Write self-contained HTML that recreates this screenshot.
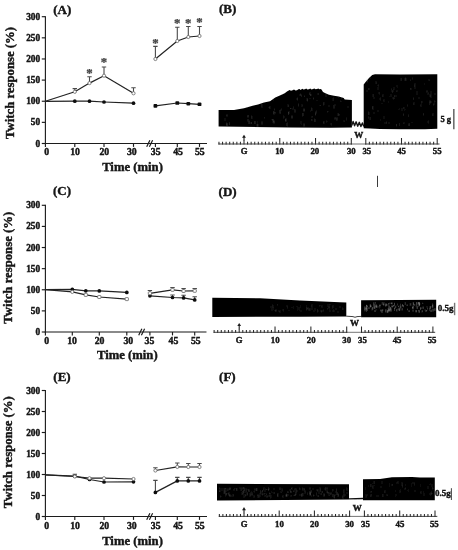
<!DOCTYPE html>
<html lang="en"><head><meta charset="utf-8"><title>Twitch response figure</title>
<style>html,body{margin:0;padding:0;background:#fff}svg{display:block}text{fill:#141414;stroke:#141414;stroke-width:0.4px}</style></head><body>
<svg width="458" height="550" viewBox="0 0 458 550">
<defs><filter id="soft" x="0" y="0" width="458" height="550" filterUnits="userSpaceOnUse"><feGaussianBlur stdDeviation="0.38"/></filter></defs>
<rect width="458" height="550" fill="#fff"/>
<g filter="url(#soft)">
<g>
<text x="62.3" y="13.8" font-family="Liberation Serif, serif" font-weight="bold" font-size="13" text-anchor="middle" >(A)</text>
<path d="M45.4 16.2V144.1" stroke="#1c1c1c" stroke-width="1.15" fill="none"/>
<path d="M41.8 143.50H45.4" stroke="#1c1c1c" stroke-width="1.15"/>
<text x="40.199999999999996" y="146.5" font-family="Liberation Serif, serif" font-weight="bold" font-size="9.4" text-anchor="end" >0</text>
<path d="M41.8 122.37H45.4" stroke="#1c1c1c" stroke-width="1.15"/>
<text x="40.199999999999996" y="125.37" font-family="Liberation Serif, serif" font-weight="bold" font-size="9.4" text-anchor="end" >50</text>
<path d="M41.8 101.23H45.4" stroke="#1c1c1c" stroke-width="1.15"/>
<text x="40.199999999999996" y="104.23" font-family="Liberation Serif, serif" font-weight="bold" font-size="9.4" text-anchor="end" >100</text>
<path d="M41.8 80.10H45.4" stroke="#1c1c1c" stroke-width="1.15"/>
<text x="40.199999999999996" y="83.1" font-family="Liberation Serif, serif" font-weight="bold" font-size="9.4" text-anchor="end" >150</text>
<path d="M41.8 58.97H45.4" stroke="#1c1c1c" stroke-width="1.15"/>
<text x="40.199999999999996" y="61.97" font-family="Liberation Serif, serif" font-weight="bold" font-size="9.4" text-anchor="end" >200</text>
<path d="M41.8 37.83H45.4" stroke="#1c1c1c" stroke-width="1.15"/>
<text x="40.199999999999996" y="40.83" font-family="Liberation Serif, serif" font-weight="bold" font-size="9.4" text-anchor="end" >250</text>
<path d="M41.8 16.70H45.4" stroke="#1c1c1c" stroke-width="1.15"/>
<text x="40.199999999999996" y="19.7" font-family="Liberation Serif, serif" font-weight="bold" font-size="9.4" text-anchor="end" >300</text>
<path d="M44.8 143.5H207" stroke="#1c1c1c" stroke-width="1.15" fill="none"/>
<path d="M146.70 146.70L149.90 140.20M149.40 146.70L152.60 140.20" stroke="#1c1c1c" stroke-width="1.2" fill="none"/>
<path d="M45.4 143.5V146.9" stroke="#1c1c1c" stroke-width="1.15"/>
<text x="46.8" y="154.8" font-family="Liberation Serif, serif" font-weight="bold" font-size="9.8" text-anchor="middle" >0</text>
<path d="M74.8 143.5V146.9" stroke="#1c1c1c" stroke-width="1.15"/>
<text x="75.1" y="154.8" font-family="Liberation Serif, serif" font-weight="bold" font-size="9.8" text-anchor="middle" >10</text>
<path d="M104 143.5V146.9" stroke="#1c1c1c" stroke-width="1.15"/>
<text x="104.3" y="154.8" font-family="Liberation Serif, serif" font-weight="bold" font-size="9.8" text-anchor="middle" >20</text>
<path d="M133.5 143.5V146.9" stroke="#1c1c1c" stroke-width="1.15"/>
<text x="131.8" y="154.8" font-family="Liberation Serif, serif" font-weight="bold" font-size="9.8" text-anchor="middle" >30</text>
<path d="M155.4 143.5V146.9" stroke="#1c1c1c" stroke-width="1.15"/>
<text x="155.7" y="154.8" font-family="Liberation Serif, serif" font-weight="bold" font-size="9.8" text-anchor="middle" >35</text>
<path d="M177.3 143.5V146.9" stroke="#1c1c1c" stroke-width="1.15"/>
<text x="178.1" y="154.8" font-family="Liberation Serif, serif" font-weight="bold" font-size="9.8" text-anchor="middle" >45</text>
<path d="M199.5 143.5V146.9" stroke="#1c1c1c" stroke-width="1.15"/>
<text x="199.8" y="154.8" font-family="Liberation Serif, serif" font-weight="bold" font-size="9.8" text-anchor="middle" >55</text>
<text x="132.5" y="171.3" font-family="Liberation Serif, serif" font-weight="bold" font-size="12.7" text-anchor="middle" >Time (min)</text>
<text transform="translate(13.8 139) rotate(-90)" font-family="Liberation Serif, serif" font-weight="bold" font-size="13" textLength="112" lengthAdjust="spacingAndGlyphs">Twitch response (%)</text>
<path d="M45.4 101.3 L74.8 101.2 L89.5 101.2 L104 102 L133.5 103.2" stroke="#222" stroke-width="1.2" fill="none" stroke-linejoin="round"/>
<path d="M155.4 105.9 L177.3 103 L188.3 103.7 L199.5 104.3" stroke="#222" stroke-width="1.2" fill="none" stroke-linejoin="round"/>
<circle cx="74.8" cy="101.2" r="1.85" fill="#111"/>
<circle cx="89.5" cy="101.2" r="1.85" fill="#111"/>
<circle cx="104" cy="102" r="1.85" fill="#111"/>
<circle cx="133.5" cy="103.2" r="1.85" fill="#111"/>
<rect x="153.50" y="104.10" width="3.8" height="3.6" rx="0.9" fill="#111"/>
<rect x="175.40" y="101.20" width="3.8" height="3.6" rx="0.9" fill="#111"/>
<rect x="186.40" y="101.90" width="3.8" height="3.6" rx="0.9" fill="#111"/>
<rect x="197.60" y="102.50" width="3.8" height="3.6" rx="0.9" fill="#111"/>
<path d="M74.8 91.8V88.6M72.6 88.6H77.0" stroke="#4a4a4a" stroke-width="1.1" fill="none"/>
<path d="M89.5 83.1V76.7M87.3 76.7H91.7" stroke="#4a4a4a" stroke-width="1.1" fill="none"/>
<path d="M104 75.7V67M101.8 67H106.2" stroke="#4a4a4a" stroke-width="1.1" fill="none"/>
<path d="M133.5 93.3V87.8M131.3 87.8H135.7" stroke="#4a4a4a" stroke-width="1.1" fill="none"/>
<path d="M155.4 59V46.4M153.20000000000002 46.4H157.6" stroke="#4a4a4a" stroke-width="1.1" fill="none"/>
<path d="M177.3 41V27.3M175.10000000000002 27.3H179.5" stroke="#4a4a4a" stroke-width="1.1" fill="none"/>
<path d="M188.3 37V26.5M186.10000000000002 26.5H190.5" stroke="#4a4a4a" stroke-width="1.1" fill="none"/>
<path d="M199.5 36V26.5M197.3 26.5H201.7" stroke="#4a4a4a" stroke-width="1.1" fill="none"/>
<path d="M45.4 101.3 L74.8 91.8 L89.5 83.1 L104 75.7 L133.5 93.3" stroke="#222" stroke-width="1.2" fill="none" stroke-linejoin="round"/>
<path d="M155.4 59 L177.3 41 L188.3 37 L199.5 36" stroke="#222" stroke-width="1.2" fill="none" stroke-linejoin="round"/>
<circle cx="74.8" cy="91.8" r="1.6" fill="#fff" stroke="#666" stroke-width="0.8"/>
<circle cx="89.5" cy="83.1" r="1.6" fill="#fff" stroke="#666" stroke-width="0.8"/>
<circle cx="104" cy="75.7" r="1.6" fill="#fff" stroke="#666" stroke-width="0.8"/>
<circle cx="133.5" cy="93.3" r="1.6" fill="#fff" stroke="#666" stroke-width="0.8"/>
<circle cx="155.4" cy="59" r="1.6" fill="#fff" stroke="#666" stroke-width="0.8"/>
<circle cx="177.3" cy="41" r="1.6" fill="#fff" stroke="#666" stroke-width="0.8"/>
<circle cx="188.3" cy="37" r="1.6" fill="#fff" stroke="#666" stroke-width="0.8"/>
<circle cx="199.5" cy="36" r="1.6" fill="#fff" stroke="#666" stroke-width="0.8"/>
<text x="89.5" y="76.8" font-family="Liberation Serif, serif" font-weight="bold" font-size="12.8" text-anchor="middle" style="fill:#444;stroke:#444;stroke-width:0.25">*</text>
<text x="104" y="66.3" font-family="Liberation Serif, serif" font-weight="bold" font-size="12.8" text-anchor="middle" style="fill:#444;stroke:#444;stroke-width:0.25">*</text>
<text x="155.4" y="46.8" font-family="Liberation Serif, serif" font-weight="bold" font-size="12.8" text-anchor="middle" style="fill:#444;stroke:#444;stroke-width:0.25">*</text>
<text x="177.3" y="26.8" font-family="Liberation Serif, serif" font-weight="bold" font-size="12.8" text-anchor="middle" style="fill:#444;stroke:#444;stroke-width:0.25">*</text>
<text x="188.3" y="26.8" font-family="Liberation Serif, serif" font-weight="bold" font-size="12.8" text-anchor="middle" style="fill:#444;stroke:#444;stroke-width:0.25">*</text>
<text x="199.5" y="26.0" font-family="Liberation Serif, serif" font-weight="bold" font-size="12.8" text-anchor="middle" style="fill:#444;stroke:#444;stroke-width:0.25">*</text>
</g>
<g>
<text x="62" y="195.4" font-family="Liberation Serif, serif" font-weight="bold" font-size="13" text-anchor="middle" >(C)</text>
<path d="M45.4 204.8V332.6" stroke="#1c1c1c" stroke-width="1.15" fill="none"/>
<path d="M41.8 332.00H45.4" stroke="#1c1c1c" stroke-width="1.15"/>
<text x="40.199999999999996" y="335.0" font-family="Liberation Serif, serif" font-weight="bold" font-size="9.4" text-anchor="end" >0</text>
<path d="M41.8 310.88H45.4" stroke="#1c1c1c" stroke-width="1.15"/>
<text x="40.199999999999996" y="313.88" font-family="Liberation Serif, serif" font-weight="bold" font-size="9.4" text-anchor="end" >50</text>
<path d="M41.8 289.77H45.4" stroke="#1c1c1c" stroke-width="1.15"/>
<text x="40.199999999999996" y="292.77" font-family="Liberation Serif, serif" font-weight="bold" font-size="9.4" text-anchor="end" >100</text>
<path d="M41.8 268.65H45.4" stroke="#1c1c1c" stroke-width="1.15"/>
<text x="40.199999999999996" y="271.65" font-family="Liberation Serif, serif" font-weight="bold" font-size="9.4" text-anchor="end" >150</text>
<path d="M41.8 247.53H45.4" stroke="#1c1c1c" stroke-width="1.15"/>
<text x="40.199999999999996" y="250.53" font-family="Liberation Serif, serif" font-weight="bold" font-size="9.4" text-anchor="end" >200</text>
<path d="M41.8 226.42H45.4" stroke="#1c1c1c" stroke-width="1.15"/>
<text x="40.199999999999996" y="229.42" font-family="Liberation Serif, serif" font-weight="bold" font-size="9.4" text-anchor="end" >250</text>
<path d="M41.8 205.30H45.4" stroke="#1c1c1c" stroke-width="1.15"/>
<text x="40.199999999999996" y="208.3" font-family="Liberation Serif, serif" font-weight="bold" font-size="9.4" text-anchor="end" >300</text>
<path d="M44.8 332.0H206.5" stroke="#1c1c1c" stroke-width="1.15" fill="none"/>
<path d="M138.70 335.20L141.90 328.70M141.40 335.20L144.60 328.70" stroke="#1c1c1c" stroke-width="1.2" fill="none"/>
<path d="M45.4 332.0V335.4" stroke="#1c1c1c" stroke-width="1.15"/>
<text x="46.7" y="344.3" font-family="Liberation Serif, serif" font-weight="bold" font-size="9.8" text-anchor="middle" >0</text>
<path d="M72.3 332.0V335.4" stroke="#1c1c1c" stroke-width="1.15"/>
<text x="72.1" y="344.3" font-family="Liberation Serif, serif" font-weight="bold" font-size="9.8" text-anchor="middle" >10</text>
<path d="M99.3 332.0V335.4" stroke="#1c1c1c" stroke-width="1.15"/>
<text x="99.6" y="344.3" font-family="Liberation Serif, serif" font-weight="bold" font-size="9.8" text-anchor="middle" >20</text>
<path d="M126.8 332.0V335.4" stroke="#1c1c1c" stroke-width="1.15"/>
<text x="128.3" y="344.3" font-family="Liberation Serif, serif" font-weight="bold" font-size="9.8" text-anchor="middle" >30</text>
<path d="M149.9 332.0V335.4" stroke="#1c1c1c" stroke-width="1.15"/>
<text x="149.4" y="344.3" font-family="Liberation Serif, serif" font-weight="bold" font-size="9.8" text-anchor="middle" >35</text>
<path d="M172.5 332.0V335.4" stroke="#1c1c1c" stroke-width="1.15"/>
<text x="173.4" y="344.3" font-family="Liberation Serif, serif" font-weight="bold" font-size="9.8" text-anchor="middle" >45</text>
<path d="M194.7 332.0V335.4" stroke="#1c1c1c" stroke-width="1.15"/>
<text x="195.8" y="344.3" font-family="Liberation Serif, serif" font-weight="bold" font-size="9.8" text-anchor="middle" >55</text>
<text x="127.3" y="358.6" font-family="Liberation Serif, serif" font-weight="bold" font-size="12.7" text-anchor="middle" >Time (min)</text>
<text transform="translate(12.3 323.8) rotate(-90)" font-family="Liberation Serif, serif" font-weight="bold" font-size="13" textLength="112" lengthAdjust="spacingAndGlyphs">Twitch response (%)</text>
<path d="M172.5 297.5V295M170.3 295H174.7" stroke="#4a4a4a" stroke-width="1.1" fill="none"/>
<path d="M183.6 297.9V295.3M181.4 295.3H185.79999999999998" stroke="#4a4a4a" stroke-width="1.1" fill="none"/>
<path d="M194.7 299.9V296.8M192.5 296.8H196.89999999999998" stroke="#4a4a4a" stroke-width="1.1" fill="none"/>
<path d="M45.4 289.6 L72.3 289.3 L85.8 290.8 L99.3 290.9 L126.8 292.4" stroke="#222" stroke-width="1.2" fill="none" stroke-linejoin="round"/>
<path d="M149.9 295.8 L172.5 297.5 L183.6 297.9 L194.7 299.9" stroke="#222" stroke-width="1.2" fill="none" stroke-linejoin="round"/>
<circle cx="72.3" cy="289.3" r="1.85" fill="#111"/>
<circle cx="85.8" cy="290.8" r="1.85" fill="#111"/>
<circle cx="99.3" cy="290.9" r="1.85" fill="#111"/>
<circle cx="126.8" cy="292.4" r="1.85" fill="#111"/>
<circle cx="149.9" cy="295.8" r="1.85" fill="#111"/>
<circle cx="172.5" cy="297.5" r="1.85" fill="#111"/>
<circle cx="183.6" cy="297.9" r="1.85" fill="#111"/>
<circle cx="194.7" cy="299.9" r="1.85" fill="#111"/>
<path d="M149.9 293.3V290.5M147.70000000000002 290.5H152.1" stroke="#4a4a4a" stroke-width="1.1" fill="none"/>
<path d="M172.5 289.8V287.5M170.3 287.5H174.7" stroke="#4a4a4a" stroke-width="1.1" fill="none"/>
<path d="M183.6 291V288.5M181.4 288.5H185.79999999999998" stroke="#4a4a4a" stroke-width="1.1" fill="none"/>
<path d="M194.7 290.8V288.5M192.5 288.5H196.89999999999998" stroke="#4a4a4a" stroke-width="1.1" fill="none"/>
<path d="M45.4 289.6 L72.3 291.9 L85.8 294.9 L99.3 297 L126.8 299.1" stroke="#222" stroke-width="1.2" fill="none" stroke-linejoin="round"/>
<path d="M149.9 293.3 L172.5 289.8 L183.6 291 L194.7 290.8" stroke="#222" stroke-width="1.2" fill="none" stroke-linejoin="round"/>
<circle cx="72.3" cy="291.9" r="1.6" fill="#fff" stroke="#666" stroke-width="0.8"/>
<rect x="84.20" y="293.40" width="3.2" height="3" rx="0.5" fill="#fff" stroke="#666" stroke-width="0.8"/>
<rect x="97.70" y="295.50" width="3.2" height="3" rx="0.5" fill="#fff" stroke="#666" stroke-width="0.8"/>
<rect x="125.20" y="297.60" width="3.2" height="3" rx="0.5" fill="#fff" stroke="#666" stroke-width="0.8"/>
<rect x="148.30" y="291.80" width="3.2" height="3" rx="0.5" fill="#fff" stroke="#666" stroke-width="0.8"/>
<rect x="170.90" y="288.30" width="3.2" height="3" rx="0.5" fill="#fff" stroke="#666" stroke-width="0.8"/>
<rect x="182.00" y="289.50" width="3.2" height="3" rx="0.5" fill="#fff" stroke="#666" stroke-width="0.8"/>
<rect x="193.10" y="289.30" width="3.2" height="3" rx="0.5" fill="#fff" stroke="#666" stroke-width="0.8"/>
</g>
<g>
<text x="62" y="381.3" font-family="Liberation Serif, serif" font-weight="bold" font-size="13" text-anchor="middle" >(E)</text>
<path d="M45.4 390.0V517.1" stroke="#1c1c1c" stroke-width="1.15" fill="none"/>
<path d="M41.8 516.50H45.4" stroke="#1c1c1c" stroke-width="1.15"/>
<text x="40.199999999999996" y="519.5" font-family="Liberation Serif, serif" font-weight="bold" font-size="9.4" text-anchor="end" >0</text>
<path d="M41.8 495.50H45.4" stroke="#1c1c1c" stroke-width="1.15"/>
<text x="40.199999999999996" y="498.5" font-family="Liberation Serif, serif" font-weight="bold" font-size="9.4" text-anchor="end" >50</text>
<path d="M41.8 474.50H45.4" stroke="#1c1c1c" stroke-width="1.15"/>
<text x="40.199999999999996" y="477.5" font-family="Liberation Serif, serif" font-weight="bold" font-size="9.4" text-anchor="end" >100</text>
<path d="M41.8 453.50H45.4" stroke="#1c1c1c" stroke-width="1.15"/>
<text x="40.199999999999996" y="456.5" font-family="Liberation Serif, serif" font-weight="bold" font-size="9.4" text-anchor="end" >150</text>
<path d="M41.8 432.50H45.4" stroke="#1c1c1c" stroke-width="1.15"/>
<text x="40.199999999999996" y="435.5" font-family="Liberation Serif, serif" font-weight="bold" font-size="9.4" text-anchor="end" >200</text>
<path d="M41.8 411.50H45.4" stroke="#1c1c1c" stroke-width="1.15"/>
<text x="40.199999999999996" y="414.5" font-family="Liberation Serif, serif" font-weight="bold" font-size="9.4" text-anchor="end" >250</text>
<path d="M41.8 390.50H45.4" stroke="#1c1c1c" stroke-width="1.15"/>
<text x="40.199999999999996" y="393.5" font-family="Liberation Serif, serif" font-weight="bold" font-size="9.4" text-anchor="end" >300</text>
<path d="M44.8 516.5H207" stroke="#1c1c1c" stroke-width="1.15" fill="none"/>
<path d="M146.70 519.70L149.90 513.20M149.40 519.70L152.60 513.20" stroke="#1c1c1c" stroke-width="1.2" fill="none"/>
<path d="M45.4 516.5V519.9" stroke="#1c1c1c" stroke-width="1.15"/>
<text x="46.8" y="528.9" font-family="Liberation Serif, serif" font-weight="bold" font-size="9.8" text-anchor="middle" >0</text>
<path d="M74.8 516.5V519.9" stroke="#1c1c1c" stroke-width="1.15"/>
<text x="75.1" y="528.9" font-family="Liberation Serif, serif" font-weight="bold" font-size="9.8" text-anchor="middle" >10</text>
<path d="M104 516.5V519.9" stroke="#1c1c1c" stroke-width="1.15"/>
<text x="104.3" y="528.9" font-family="Liberation Serif, serif" font-weight="bold" font-size="9.8" text-anchor="middle" >20</text>
<path d="M133.5 516.5V519.9" stroke="#1c1c1c" stroke-width="1.15"/>
<text x="131.8" y="528.9" font-family="Liberation Serif, serif" font-weight="bold" font-size="9.8" text-anchor="middle" >30</text>
<path d="M155.4 516.5V519.9" stroke="#1c1c1c" stroke-width="1.15"/>
<text x="155.7" y="528.9" font-family="Liberation Serif, serif" font-weight="bold" font-size="9.8" text-anchor="middle" >35</text>
<path d="M177.3 516.5V519.9" stroke="#1c1c1c" stroke-width="1.15"/>
<text x="178.1" y="528.9" font-family="Liberation Serif, serif" font-weight="bold" font-size="9.8" text-anchor="middle" >45</text>
<path d="M199.5 516.5V519.9" stroke="#1c1c1c" stroke-width="1.15"/>
<text x="199.8" y="528.9" font-family="Liberation Serif, serif" font-weight="bold" font-size="9.8" text-anchor="middle" >55</text>
<text x="132.5" y="544.6" font-family="Liberation Serif, serif" font-weight="bold" font-size="12.7" text-anchor="middle" >Time (min)</text>
<text transform="translate(12.3 508.3) rotate(-90)" font-family="Liberation Serif, serif" font-weight="bold" font-size="13" textLength="112" lengthAdjust="spacingAndGlyphs">Twitch response (%)</text>
<path d="M155.4 492.4V480.4M153.20000000000002 480.4H157.6" stroke="#4a4a4a" stroke-width="1.1" fill="none"/>
<path d="M177.3 480.9V477.4M175.10000000000002 477.4H179.5" stroke="#4a4a4a" stroke-width="1.1" fill="none"/>
<path d="M188.3 480.9V477.4M186.10000000000002 477.4H190.5" stroke="#4a4a4a" stroke-width="1.1" fill="none"/>
<path d="M199.5 480.9V477.4M197.3 477.4H201.7" stroke="#4a4a4a" stroke-width="1.1" fill="none"/>
<path d="M45.4 474.8 L74.8 476.2 L89.5 479.5 L104 482 L133.5 481.8" stroke="#222" stroke-width="1.2" fill="none" stroke-linejoin="round"/>
<path d="M155.4 492.4 L177.3 480.9 L188.3 480.9 L199.5 480.9" stroke="#222" stroke-width="1.2" fill="none" stroke-linejoin="round"/>
<circle cx="74.8" cy="476.2" r="1.85" fill="#111"/>
<circle cx="89.5" cy="479.5" r="1.85" fill="#111"/>
<circle cx="104" cy="482" r="1.85" fill="#111"/>
<circle cx="133.5" cy="481.8" r="1.85" fill="#111"/>
<circle cx="155.4" cy="492.4" r="1.85" fill="#111"/>
<circle cx="177.3" cy="480.9" r="1.85" fill="#111"/>
<circle cx="188.3" cy="480.9" r="1.85" fill="#111"/>
<circle cx="199.5" cy="480.9" r="1.85" fill="#111"/>
<path d="M74.8 476.5V474.2M72.6 474.2H77.0" stroke="#4a4a4a" stroke-width="1.1" fill="none"/>
<path d="M155.4 470.5V467.8M153.20000000000002 467.8H157.6" stroke="#4a4a4a" stroke-width="1.1" fill="none"/>
<path d="M177.3 466.9V463M175.10000000000002 463H179.5" stroke="#4a4a4a" stroke-width="1.1" fill="none"/>
<path d="M188.3 467V463.5M186.10000000000002 463.5H190.5" stroke="#4a4a4a" stroke-width="1.1" fill="none"/>
<path d="M199.5 467V463.5M197.3 463.5H201.7" stroke="#4a4a4a" stroke-width="1.1" fill="none"/>
<path d="M45.4 474.8 L74.8 476.5 L89.5 478.2 L104 478.2 L133.5 479" stroke="#222" stroke-width="1.2" fill="none" stroke-linejoin="round"/>
<path d="M155.4 470.5 L177.3 466.9 L188.3 467 L199.5 467" stroke="#222" stroke-width="1.2" fill="none" stroke-linejoin="round"/>
<circle cx="74.8" cy="476.5" r="1.6" fill="#fff" stroke="#666" stroke-width="0.8"/>
<circle cx="89.5" cy="478.2" r="1.6" fill="#fff" stroke="#666" stroke-width="0.8"/>
<circle cx="104" cy="478.2" r="1.6" fill="#fff" stroke="#666" stroke-width="0.8"/>
<circle cx="133.5" cy="479" r="1.6" fill="#fff" stroke="#666" stroke-width="0.8"/>
<circle cx="155.4" cy="470.5" r="1.6" fill="#fff" stroke="#666" stroke-width="0.8"/>
<circle cx="177.3" cy="466.9" r="1.6" fill="#fff" stroke="#666" stroke-width="0.8"/>
<circle cx="188.3" cy="467" r="1.6" fill="#fff" stroke="#666" stroke-width="0.8"/>
<circle cx="199.5" cy="467" r="1.6" fill="#fff" stroke="#666" stroke-width="0.8"/>
</g>
<g>
<text x="227.6" y="13.4" font-family="Liberation Serif, serif" font-weight="bold" font-size="13" text-anchor="middle" >(B)</text>
<path d="M218.6 110 L234 110 L244 108.3 L252.6 105.8 L258 104.4 L264 102.6 L270 101.2 L275.3 97.6 L281 95 L284.7 93.3 L287 91.6 L289.6 90.1 L291 90.7 L292.6 90.3 L294 89.5 L295.5 90.6 L297 90.2 L298.4 89.2 L299.5 88.9 L300.6 89.9 L302.3 88.7 L303.4 89.5 L305 89.3 L306.2 88.6 L307.3 89.6 L309 89.2 L310.2 88.5 L311.6 89.5 L313 88.9 L314.4 88.4 L315.6 89.3 L317 89 L318.3 88.5 L319.4 89.3 L320.6 89 L321.5 89.6 L323 92 L326 93.4 L329 94.7 L334 95.8 L338.8 96.6 L343.7 98 L344.7 99.6 L351.9 100 L351.9 127.4 L330 127.8 L290 127.4 L218.6 126.6 Z" fill="#060606"/>
<path d="M351.8 125.6 L353.1 121.4 L354.6 125.8 L356.1 121.8 L357.7 126.2 L359.3 122.3 L360.9 126.6 L362.4 123 L363.8 126.6" stroke="#151515" stroke-width="1.4" fill="none" stroke-linejoin="round"/>
<path d="M363.7 128.2 L363.7 84.5 L366 81.5 L369 78 L372.2 75 L375 74.3 L400 74.6 L437.3 74.2 L437.3 128.8 L425 129.3 L400 129.3 L380 129 L370 128.6 L363.7 128.2 Z" fill="#060606"/>
<clipPath id="cb"><path d="M218.6 110 L234 110 L244 108.3 L252.6 105.8 L258 104.4 L264 102.6 L270 101.2 L275.3 97.6 L281 95 L284.7 93.3 L287 91.6 L289.6 90.1 L291 90.7 L292.6 90.3 L294 89.5 L295.5 90.6 L297 90.2 L298.4 89.2 L299.5 88.9 L300.6 89.9 L302.3 88.7 L303.4 89.5 L305 89.3 L306.2 88.6 L307.3 89.6 L309 89.2 L310.2 88.5 L311.6 89.5 L313 88.9 L314.4 88.4 L315.6 89.3 L317 89 L318.3 88.5 L319.4 89.3 L320.6 89 L321.5 89.6 L323 92 L326 93.4 L329 94.7 L334 95.8 L338.8 96.6 L343.7 98 L344.7 99.6 L351.9 100 L351.9 127.4 L330 127.8 L290 127.4 L218.6 126.6 Z"/></clipPath>
<g fill="#9a9a9a" clip-path="url(#cb)"><rect x="279.4" y="109.9" width="1.3" height="1.9" opacity="0.2"/><rect x="296.8" y="97.9" width="1.0" height="2.3" opacity="0.25"/><rect x="233.1" y="101.7" width="0.7" height="2.7" opacity="0.23"/><rect x="226.4" y="123.4" width="1.4" height="2.4" opacity="0.22"/><rect x="241.3" y="92.5" width="1.0" height="0.9" opacity="0.14"/><rect x="252.2" y="93.0" width="1.0" height="1.9" opacity="0.26"/><rect x="288.0" y="112.5" width="1.0" height="2.4" opacity="0.19"/><rect x="256.9" y="123.9" width="1.4" height="2.8" opacity="0.23"/><rect x="261.7" y="99.3" width="0.8" height="1.0" opacity="0.24"/><rect x="272.7" y="119.1" width="0.9" height="3.1" opacity="0.26"/><rect x="221.1" y="98.7" width="1.3" height="1.9" opacity="0.28"/><rect x="272.3" y="94.3" width="1.1" height="2.7" opacity="0.16"/><rect x="232.2" y="102.6" width="1.4" height="2.6" opacity="0.13"/><rect x="252.8" y="95.2" width="0.6" height="2.7" opacity="0.14"/><rect x="293.1" y="106.3" width="0.8" height="2.6" opacity="0.13"/><rect x="304.0" y="95.7" width="0.9" height="1.3" opacity="0.16"/><rect x="346.2" y="117.7" width="0.8" height="2.9" opacity="0.15"/><rect x="271.9" y="119.3" width="1.1" height="1.0" opacity="0.28"/><rect x="248.5" y="100.3" width="1.2" height="1.6" opacity="0.16"/><rect x="230.5" y="94.9" width="1.1" height="1.4" opacity="0.22"/><rect x="268.9" y="106.5" width="1.4" height="2.0" opacity="0.21"/><rect x="332.8" y="97.9" width="0.7" height="3.0" opacity="0.25"/><rect x="253.2" y="98.1" width="1.2" height="3.1" opacity="0.14"/><rect x="343.6" y="120.2" width="1.1" height="1.8" opacity="0.13"/><rect x="226.0" y="122.8" width="0.8" height="2.5" opacity="0.16"/><rect x="327.3" y="111.1" width="0.8" height="1.2" opacity="0.24"/><rect x="229.9" y="99.3" width="1.0" height="2.8" opacity="0.22"/><rect x="257.1" y="121.4" width="0.8" height="0.8" opacity="0.16"/><rect x="278.5" y="93.9" width="0.7" height="1.7" opacity="0.21"/><rect x="238.0" y="103.6" width="1.3" height="3.2" opacity="0.23"/><rect x="310.2" y="110.7" width="0.7" height="0.9" opacity="0.11"/><rect x="338.4" y="114.4" width="1.4" height="0.9" opacity="0.22"/><rect x="283.2" y="115.4" width="0.9" height="3.2" opacity="0.12"/><rect x="291.4" y="115.6" width="1.3" height="2.6" opacity="0.23"/><rect x="323.3" y="121.3" width="0.9" height="2.4" opacity="0.27"/><rect x="333.4" y="105.3" width="1.2" height="2.9" opacity="0.21"/><rect x="301.6" y="104.2" width="1.1" height="2.3" opacity="0.12"/><rect x="303.5" y="123.8" width="1.3" height="2.5" opacity="0.18"/><rect x="315.8" y="110.6" width="1.0" height="2.8" opacity="0.12"/><rect x="317.8" y="93.0" width="1.1" height="2.0" opacity="0.15"/><rect x="311.1" y="107.9" width="1.1" height="3.0" opacity="0.16"/><rect x="222.5" y="101.6" width="1.1" height="1.3" opacity="0.14"/><rect x="337.8" y="113.1" width="1.0" height="2.9" opacity="0.17"/><rect x="306.9" y="98.4" width="0.9" height="2.7" opacity="0.27"/><rect x="334.6" y="104.3" width="1.1" height="1.6" opacity="0.13"/><rect x="285.0" y="118.8" width="1.3" height="2.5" opacity="0.28"/><rect x="256.7" y="97.4" width="1.0" height="1.5" opacity="0.15"/><rect x="274.4" y="112.0" width="1.0" height="1.6" opacity="0.26"/><rect x="347.7" y="106.5" width="0.7" height="0.9" opacity="0.26"/><rect x="226.4" y="114.7" width="1.1" height="1.5" opacity="0.25"/><rect x="223.5" y="96.3" width="1.0" height="0.9" opacity="0.26"/><rect x="251.6" y="96.5" width="0.6" height="2.3" opacity="0.19"/><rect x="302.3" y="113.0" width="1.2" height="3.1" opacity="0.23"/><rect x="246.7" y="107.2" width="0.7" height="0.8" opacity="0.19"/><rect x="313.1" y="97.7" width="0.8" height="1.6" opacity="0.23"/><rect x="288.1" y="111.7" width="1.2" height="1.7" opacity="0.25"/><rect x="337.9" y="94.8" width="1.3" height="2.5" opacity="0.13"/><rect x="279.5" y="112.0" width="1.3" height="1.7" opacity="0.21"/><rect x="334.4" y="117.5" width="1.4" height="1.9" opacity="0.22"/><rect x="247.4" y="115.1" width="1.3" height="2.3" opacity="0.24"/><rect x="248.5" y="120.8" width="1.4" height="3.1" opacity="0.2"/><rect x="323.0" y="102.3" width="1.3" height="2.9" opacity="0.17"/><rect x="231.7" y="106.1" width="1.0" height="2.6" opacity="0.2"/><rect x="224.7" y="117.9" width="0.7" height="2.7" opacity="0.14"/><rect x="264.2" y="117.2" width="0.7" height="1.2" opacity="0.2"/><rect x="314.3" y="118.9" width="1.2" height="3.1" opacity="0.2"/><rect x="343.4" y="94.8" width="0.8" height="2.1" opacity="0.16"/><rect x="315.0" y="112.4" width="1.0" height="2.8" opacity="0.21"/><rect x="261.2" y="104.2" width="1.3" height="3.0" opacity="0.15"/><rect x="330.7" y="123.0" width="1.0" height="2.2" opacity="0.15"/><rect x="290.1" y="108.1" width="1.1" height="0.9" opacity="0.28"/><rect x="287.6" y="104.8" width="1.2" height="2.2" opacity="0.2"/><rect x="310.1" y="94.1" width="1.0" height="1.8" opacity="0.28"/><rect x="340.1" y="100.6" width="1.0" height="1.1" opacity="0.19"/><rect x="326.2" y="120.8" width="1.0" height="1.6" opacity="0.14"/><rect x="300.7" y="121.6" width="0.7" height="2.7" opacity="0.11"/><rect x="246.0" y="99.3" width="1.1" height="1.6" opacity="0.17"/><rect x="300.9" y="95.4" width="1.2" height="1.1" opacity="0.2"/><rect x="253.3" y="98.3" width="1.0" height="1.8" opacity="0.18"/><rect x="274.3" y="108.9" width="0.7" height="1.3" opacity="0.22"/><rect x="303.4" y="108.9" width="1.3" height="2.3" opacity="0.26"/><rect x="251.0" y="115.7" width="1.2" height="3.0" opacity="0.17"/><rect x="261.6" y="121.5" width="0.8" height="3.2" opacity="0.27"/><rect x="238.3" y="99.7" width="1.2" height="1.4" opacity="0.13"/><rect x="328.3" y="105.5" width="1.2" height="1.1" opacity="0.18"/><rect x="309.4" y="92.6" width="0.8" height="2.4" opacity="0.27"/><rect x="345.9" y="95.7" width="1.0" height="2.6" opacity="0.2"/><rect x="309.5" y="98.0" width="0.7" height="1.1" opacity="0.12"/><rect x="292.2" y="108.5" width="1.1" height="1.2" opacity="0.14"/><rect x="247.3" y="118.9" width="1.4" height="3.0" opacity="0.13"/><rect x="229.0" y="122.4" width="1.0" height="2.6" opacity="0.17"/><rect x="281.2" y="108.5" width="0.9" height="2.2" opacity="0.11"/><rect x="311.4" y="119.0" width="0.7" height="1.9" opacity="0.24"/><rect x="273.3" y="98.2" width="0.7" height="2.0" opacity="0.11"/><rect x="336.2" y="117.7" width="1.2" height="2.9" opacity="0.22"/><rect x="273.2" y="111.2" width="1.0" height="3.2" opacity="0.25"/><rect x="254.3" y="121.2" width="1.2" height="2.7" opacity="0.25"/><rect x="273.3" y="120.7" width="1.3" height="2.5" opacity="0.25"/><rect x="319.7" y="105.0" width="1.2" height="1.0" opacity="0.17"/><rect x="281.5" y="92.3" width="0.9" height="2.3" opacity="0.22"/><rect x="250.9" y="122.2" width="1.1" height="1.6" opacity="0.23"/><rect x="294.5" y="109.1" width="0.9" height="3.2" opacity="0.22"/><rect x="311.5" y="116.4" width="1.4" height="0.9" opacity="0.22"/><rect x="316.3" y="100.2" width="0.9" height="0.9" opacity="0.14"/><rect x="269.5" y="95.2" width="0.8" height="3.0" opacity="0.21"/><rect x="286.5" y="122.9" width="1.1" height="3.2" opacity="0.22"/><rect x="325.4" y="94.4" width="1.1" height="2.6" opacity="0.12"/><rect x="341.0" y="97.1" width="1.0" height="1.2" opacity="0.2"/><rect x="299.8" y="93.9" width="1.4" height="1.8" opacity="0.2"/><rect x="298.1" y="103.7" width="0.8" height="2.4" opacity="0.21"/></g>
<g fill="#9a9a9a"><rect x="398.7" y="108.6" width="1.1" height="1.1" opacity="0.08"/><rect x="391.9" y="90.2" width="1.2" height="2.5" opacity="0.16"/><rect x="404.5" y="108.7" width="0.7" height="1.9" opacity="0.1"/><rect x="428.5" y="79.8" width="1.3" height="1.0" opacity="0.17"/><rect x="389.3" y="96.4" width="1.3" height="0.8" opacity="0.09"/><rect x="429.1" y="101.4" width="0.7" height="3.2" opacity="0.2"/><rect x="373.8" y="97.3" width="0.7" height="1.6" opacity="0.16"/><rect x="377.3" y="110.4" width="0.6" height="1.2" opacity="0.18"/><rect x="393.6" y="97.1" width="1.1" height="1.9" opacity="0.13"/><rect x="368.1" y="111.9" width="1.4" height="3.1" opacity="0.16"/><rect x="390.6" y="94.4" width="1.2" height="2.4" opacity="0.09"/><rect x="382.2" y="94.4" width="1.0" height="2.7" opacity="0.14"/><rect x="367.9" y="116.5" width="0.9" height="2.0" opacity="0.11"/><rect x="395.5" y="95.6" width="1.2" height="1.0" opacity="0.15"/><rect x="378.3" y="110.4" width="0.6" height="1.5" opacity="0.12"/><rect x="409.9" y="79.5" width="1.0" height="1.3" opacity="0.12"/><rect x="398.9" y="123.0" width="1.0" height="3.1" opacity="0.1"/><rect x="429.8" y="94.5" width="0.8" height="2.6" opacity="0.2"/><rect x="366.5" y="89.9" width="1.2" height="1.6" opacity="0.11"/><rect x="366.6" y="78.9" width="1.1" height="3.2" opacity="0.21"/><rect x="400.7" y="78.1" width="0.9" height="2.7" opacity="0.19"/><rect x="410.1" y="88.0" width="1.0" height="1.9" opacity="0.16"/><rect x="384.1" y="122.4" width="1.3" height="1.2" opacity="0.12"/><rect x="426.2" y="90.4" width="1.4" height="2.0" opacity="0.17"/><rect x="414.6" y="87.3" width="0.8" height="1.4" opacity="0.17"/><rect x="413.9" y="83.3" width="1.3" height="1.8" opacity="0.11"/><rect x="396.0" y="124.0" width="1.0" height="2.3" opacity="0.2"/><rect x="432.4" y="113.5" width="0.9" height="2.2" opacity="0.2"/><rect x="420.5" y="104.8" width="0.9" height="1.7" opacity="0.17"/><rect x="404.9" y="77.8" width="1.2" height="3.0" opacity="0.18"/><rect x="427.9" y="120.7" width="1.0" height="2.7" opacity="0.13"/><rect x="372.8" y="94.0" width="0.8" height="3.0" opacity="0.17"/><rect x="403.4" y="106.9" width="0.7" height="2.1" opacity="0.17"/><rect x="393.2" y="88.8" width="0.9" height="1.6" opacity="0.17"/><rect x="375.8" y="81.3" width="0.8" height="2.5" opacity="0.18"/><rect x="411.5" y="121.9" width="0.9" height="0.9" opacity="0.14"/><rect x="396.6" y="85.6" width="1.1" height="1.6" opacity="0.11"/><rect x="388.6" y="122.3" width="0.6" height="1.7" opacity="0.12"/><rect x="379.9" y="97.8" width="0.8" height="3.0" opacity="0.14"/><rect x="414.2" y="84.8" width="1.0" height="2.3" opacity="0.19"/><rect x="383.2" y="99.1" width="1.3" height="2.8" opacity="0.11"/><rect x="403.1" y="113.5" width="0.9" height="2.4" opacity="0.16"/><rect x="433.1" y="103.6" width="1.1" height="1.6" opacity="0.17"/><rect x="388.2" y="101.0" width="0.9" height="1.5" opacity="0.1"/><rect x="381.6" y="103.1" width="0.8" height="0.9" opacity="0.18"/><rect x="385.7" y="121.9" width="1.1" height="1.7" opacity="0.19"/><rect x="427.9" y="92.4" width="0.7" height="2.3" opacity="0.19"/><rect x="408.0" y="114.6" width="0.9" height="2.3" opacity="0.11"/><rect x="394.1" y="95.2" width="0.9" height="1.8" opacity="0.18"/><rect x="377.7" y="86.8" width="0.8" height="3.1" opacity="0.15"/><rect x="369.7" y="117.1" width="1.3" height="2.8" opacity="0.13"/><rect x="416.7" y="91.7" width="0.7" height="2.9" opacity="0.19"/><rect x="380.6" y="119.2" width="0.6" height="1.5" opacity="0.08"/><rect x="377.8" y="84.8" width="1.2" height="1.5" opacity="0.1"/><rect x="378.7" y="92.0" width="1.3" height="2.3" opacity="0.09"/><rect x="413.3" y="102.7" width="1.0" height="2.1" opacity="0.16"/><rect x="421.2" y="101.3" width="1.1" height="1.9" opacity="0.16"/><rect x="392.8" y="96.9" width="1.0" height="2.5" opacity="0.12"/><rect x="429.8" y="100.6" width="1.3" height="2.5" opacity="0.2"/><rect x="413.1" y="97.5" width="0.9" height="2.3" opacity="0.18"/><rect x="423.9" y="83.2" width="0.6" height="1.1" opacity="0.09"/><rect x="369.9" y="77.4" width="0.8" height="1.1" opacity="0.17"/><rect x="408.5" y="123.4" width="1.4" height="2.6" opacity="0.2"/><rect x="367.9" y="87.9" width="1.3" height="1.9" opacity="0.11"/><rect x="418.2" y="97.3" width="1.0" height="1.6" opacity="0.11"/><rect x="372.0" y="106.1" width="1.4" height="3.2" opacity="0.18"/><rect x="430.4" y="94.4" width="0.8" height="3.0" opacity="0.16"/><rect x="412.2" y="77.6" width="0.8" height="2.0" opacity="0.17"/><rect x="423.0" y="113.4" width="0.9" height="1.7" opacity="0.19"/><rect x="434.3" y="100.3" width="0.8" height="2.3" opacity="0.15"/><rect x="391.0" y="88.1" width="0.9" height="2.3" opacity="0.1"/><rect x="403.3" y="122.7" width="1.2" height="1.4" opacity="0.13"/><rect x="373.1" y="112.4" width="1.1" height="1.2" opacity="0.15"/><rect x="407.1" y="104.7" width="0.9" height="1.5" opacity="0.13"/><rect x="434.8" y="92.9" width="1.0" height="1.9" opacity="0.1"/><rect x="393.6" y="86.8" width="0.9" height="1.7" opacity="0.12"/><rect x="430.7" y="91.2" width="0.9" height="2.4" opacity="0.13"/><rect x="401.6" y="108.1" width="0.7" height="2.4" opacity="0.09"/><rect x="383.3" y="115.9" width="1.4" height="2.4" opacity="0.1"/><rect x="396.2" y="90.6" width="1.3" height="1.4" opacity="0.11"/></g>
<path d="M218.36 144.0H351.8M365.3 144.0H439.5" stroke="#2b2b2b" stroke-width="0.9" fill="none"/>
<path d="M351.3 144.0H365.8" stroke="#444" stroke-width="0.75" fill="none"/>
<path d="M218.96 144.4v-2.7M222.54 144.4v-2.7M226.12 144.4v-2.7M229.69 144.4v-2.7M233.27 144.4v-2.7M236.85 144.4v-2.7M240.42 144.4v-2.7M244.00 144.4v-3.6M247.58 144.4v-2.7M251.15 144.4v-2.7M254.73 144.4v-2.7M258.31 144.4v-2.7M261.88 144.4v-2.7M265.46 144.4v-2.7M269.04 144.4v-2.7M272.61 144.4v-2.7M276.19 144.4v-2.7M279.77 144.4v-6.3M283.34 144.4v-2.7M286.92 144.4v-2.7M290.50 144.4v-2.7M294.07 144.4v-2.7M297.65 144.4v-2.7M301.23 144.4v-2.7M304.80 144.4v-2.7M308.38 144.4v-2.7M311.96 144.4v-2.7M315.53 144.4v-6.3M319.11 144.4v-2.7M322.69 144.4v-2.7M326.26 144.4v-2.7M329.84 144.4v-2.7M333.42 144.4v-2.7M336.99 144.4v-2.7M340.57 144.4v-2.7M344.15 144.4v-2.7M347.72 144.4v-2.7M351.30 144.4v-6.3M365.80 144.4v-6.3M369.37 144.4v-2.7M372.94 144.4v-2.7M376.51 144.4v-2.7M380.08 144.4v-2.7M383.65 144.4v-2.7M387.22 144.4v-2.7M390.79 144.4v-2.7M394.36 144.4v-2.7M397.93 144.4v-2.7M401.50 144.4v-6.3M405.07 144.4v-2.7M408.64 144.4v-2.7M412.21 144.4v-2.7M415.78 144.4v-2.7M419.35 144.4v-2.7M422.92 144.4v-2.7M426.49 144.4v-2.7M430.06 144.4v-2.7M433.63 144.4v-2.7M437.20 144.4v-6.3" stroke="#2b2b2b" stroke-width="1.05" fill="none"/>
<text x="279.6" y="154" font-family="Liberation Serif, serif" font-weight="bold" font-size="8.8" text-anchor="middle" >10</text>
<text x="314.8" y="154" font-family="Liberation Serif, serif" font-weight="bold" font-size="8.8" text-anchor="middle" >20</text>
<text x="351.3" y="154" font-family="Liberation Serif, serif" font-weight="bold" font-size="8.8" text-anchor="middle" >30</text>
<text x="366.8" y="154" font-family="Liberation Serif, serif" font-weight="bold" font-size="8.8" text-anchor="middle" >35</text>
<text x="401.6" y="154" font-family="Liberation Serif, serif" font-weight="bold" font-size="8.8" text-anchor="middle" >45</text>
<text x="437.2" y="154" font-family="Liberation Serif, serif" font-weight="bold" font-size="8.8" text-anchor="middle" >55</text>
<text x="244" y="154" font-family="Liberation Serif, serif" font-weight="bold" font-size="8.6" text-anchor="middle" >G</text>
<path d="M244 141.0V136.8" stroke="#1c1c1c" stroke-width="1.1"/><path d="M242.1 137.8L244 134.7L245.9 137.8Z" fill="#1c1c1c"/>
<text x="358.8" y="137.8" font-family="Liberation Serif, serif" font-weight="bold" font-size="9" text-anchor="middle" >W</text>
<text x="445.8" y="122" font-family="Liberation Serif, serif" font-weight="bold" font-size="8.5" text-anchor="middle" >5 g</text>
<path d="M453.8 109V129.2" stroke="#6e6e6e" stroke-width="1.6"/>
</g>
<path d="M377.5 175.8V187" stroke="#3a3a3a" stroke-width="1"/>
<g>
<text x="227.6" y="195.6" font-family="Liberation Serif, serif" font-weight="bold" font-size="13" text-anchor="middle" >(D)</text>
<path d="M212.3 297.8 L260 298.2 L300 300.5 L340 302.2 L346.3 302.4 L346.3 316.5 L300 316.8 L212.3 316.9 Z" fill="#060606"/>
<path d="M346.3 316.2 L353 316.6 L355 317.3 L357 316.6 L361 316.4" stroke="#111" stroke-width="0.8" fill="none"/>
<path d="M361.1 300.2 L436.2 299.8 L436.2 317.3 L361.1 317.2 Z" fill="#060606"/>
<g fill="#9a9a9a"><rect x="282.4" y="308.8" width="1.1" height="1.9" opacity="0.09"/><rect x="329.4" y="309.7" width="1.0" height="2.0" opacity="0.1"/><rect x="270.2" y="306.6" width="1.1" height="1.0" opacity="0.16"/><rect x="287.4" y="305.6" width="0.6" height="3.2" opacity="0.15"/><rect x="335.6" y="308.3" width="0.6" height="1.6" opacity="0.13"/><rect x="278.7" y="310.7" width="0.9" height="1.2" opacity="0.16"/><rect x="279.4" y="310.5" width="1.0" height="2.1" opacity="0.11"/><rect x="306.4" y="305.3" width="0.6" height="2.9" opacity="0.1"/><rect x="328.5" y="305.5" width="1.4" height="2.9" opacity="0.15"/><rect x="327.2" y="308.1" width="1.2" height="1.1" opacity="0.12"/><rect x="332.0" y="305.4" width="1.3" height="2.9" opacity="0.12"/><rect x="297.4" y="307.2" width="0.9" height="3.2" opacity="0.11"/><rect x="272.0" y="304.7" width="1.2" height="3.2" opacity="0.13"/><rect x="306.9" y="307.9" width="1.2" height="1.3" opacity="0.14"/><rect x="311.7" y="308.4" width="0.7" height="1.2" opacity="0.11"/><rect x="339.5" y="306.4" width="1.1" height="1.5" opacity="0.08"/><rect x="274.9" y="309.7" width="1.2" height="1.7" opacity="0.15"/><rect x="320.7" y="310.3" width="1.4" height="1.8" opacity="0.18"/><rect x="342.1" y="308.1" width="1.3" height="2.0" opacity="0.11"/><rect x="288.5" y="310.1" width="0.7" height="1.0" opacity="0.16"/><rect x="328.0" y="307.4" width="1.3" height="0.9" opacity="0.1"/><rect x="291.7" y="306.9" width="0.7" height="1.0" opacity="0.11"/><rect x="337.4" y="310.9" width="1.2" height="1.9" opacity="0.1"/><rect x="341.9" y="307.7" width="1.2" height="0.9" opacity="0.09"/><rect x="332.9" y="309.6" width="1.3" height="2.2" opacity="0.12"/><rect x="313.6" y="309.9" width="0.8" height="2.1" opacity="0.1"/><rect x="327.6" y="304.1" width="1.1" height="3.1" opacity="0.07"/><rect x="314.5" y="308.5" width="1.3" height="2.2" opacity="0.1"/><rect x="300.4" y="310.7" width="1.3" height="1.1" opacity="0.08"/><rect x="277.0" y="304.2" width="1.0" height="1.1" opacity="0.17"/><rect x="319.1" y="304.9" width="1.0" height="1.6" opacity="0.13"/><rect x="286.5" y="305.2" width="0.7" height="1.7" opacity="0.15"/><rect x="311.3" y="304.3" width="1.2" height="2.9" opacity="0.16"/><rect x="329.3" y="304.1" width="1.0" height="1.0" opacity="0.16"/><rect x="283.1" y="309.0" width="0.8" height="2.5" opacity="0.11"/><rect x="273.1" y="306.7" width="0.8" height="3.0" opacity="0.1"/><rect x="307.7" y="307.8" width="1.4" height="1.0" opacity="0.14"/><rect x="308.1" y="309.1" width="1.4" height="1.5" opacity="0.15"/><rect x="309.4" y="307.9" width="0.7" height="2.8" opacity="0.18"/><rect x="296.6" y="306.2" width="1.4" height="1.1" opacity="0.08"/><rect x="275.5" y="309.7" width="1.2" height="1.9" opacity="0.14"/><rect x="271.5" y="308.5" width="1.0" height="2.0" opacity="0.11"/><rect x="300.1" y="305.6" width="0.6" height="1.8" opacity="0.1"/><rect x="322.8" y="309.7" width="1.2" height="1.9" opacity="0.1"/><rect x="298.9" y="307.4" width="1.1" height="3.1" opacity="0.08"/><rect x="306.0" y="307.4" width="1.2" height="2.9" opacity="0.16"/><rect x="317.0" y="309.3" width="1.1" height="2.9" opacity="0.15"/><rect x="321.2" y="305.7" width="1.3" height="1.7" opacity="0.14"/><rect x="331.9" y="310.7" width="1.4" height="0.8" opacity="0.11"/><rect x="293.4" y="306.7" width="0.7" height="2.1" opacity="0.08"/></g>
<g fill="#9a9a9a"><rect x="432.0" y="303.2" width="0.6" height="3.2" opacity="0.32"/><rect x="371.7" y="307.5" width="0.9" height="2.9" opacity="0.34"/><rect x="432.1" y="304.7" width="1.1" height="3.0" opacity="0.52"/><rect x="429.5" y="308.0" width="0.6" height="2.9" opacity="0.49"/><rect x="385.4" y="303.6" width="1.3" height="2.2" opacity="0.63"/><rect x="418.7" y="310.2" width="1.1" height="2.5" opacity="0.49"/><rect x="381.6" y="310.1" width="0.8" height="2.7" opacity="0.63"/><rect x="409.9" y="303.2" width="1.3" height="2.4" opacity="0.32"/><rect x="366.5" y="306.5" width="0.6" height="3.0" opacity="0.45"/><rect x="400.2" y="305.5" width="1.1" height="3.0" opacity="0.37"/><rect x="389.9" y="307.0" width="0.8" height="2.2" opacity="0.47"/><rect x="394.2" y="307.7" width="1.0" height="1.0" opacity="0.65"/><rect x="388.6" y="305.7" width="0.9" height="3.0" opacity="0.63"/><rect x="399.9" y="305.4" width="0.7" height="2.9" opacity="0.32"/><rect x="402.4" y="305.0" width="0.9" height="1.7" opacity="0.33"/><rect x="365.7" y="306.6" width="1.2" height="2.4" opacity="0.33"/><rect x="412.9" y="302.4" width="0.9" height="2.8" opacity="0.62"/><rect x="396.2" y="309.2" width="1.0" height="2.1" opacity="0.48"/><rect x="434.4" y="308.3" width="1.0" height="2.5" opacity="0.51"/><rect x="388.5" y="308.7" width="1.3" height="2.3" opacity="0.63"/><rect x="364.3" y="306.3" width="1.1" height="1.6" opacity="0.32"/><rect x="412.8" y="305.7" width="0.8" height="0.9" opacity="0.64"/><rect x="388.4" y="303.0" width="0.8" height="1.4" opacity="0.6"/><rect x="376.0" y="304.3" width="0.7" height="1.9" opacity="0.33"/><rect x="387.8" y="308.2" width="1.3" height="2.8" opacity="0.27"/><rect x="390.2" y="309.2" width="0.6" height="1.3" opacity="0.45"/><rect x="390.5" y="308.4" width="1.2" height="1.9" opacity="0.35"/><rect x="379.6" y="304.3" width="0.7" height="2.4" opacity="0.31"/><rect x="427.0" y="307.5" width="0.6" height="2.0" opacity="0.49"/><rect x="366.0" y="306.1" width="0.6" height="2.6" opacity="0.25"/><rect x="408.5" y="310.4" width="1.3" height="1.4" opacity="0.46"/><rect x="373.1" y="304.9" width="1.3" height="2.8" opacity="0.25"/><rect x="390.4" y="307.4" width="0.7" height="2.7" opacity="0.61"/><rect x="402.7" y="305.1" width="1.3" height="2.0" opacity="0.33"/><rect x="383.0" y="303.4" width="1.3" height="2.0" opacity="0.53"/><rect x="421.8" y="310.3" width="0.8" height="1.8" opacity="0.6"/><rect x="417.8" y="305.3" width="1.1" height="1.3" opacity="0.31"/><rect x="366.6" y="305.2" width="0.8" height="2.0" opacity="0.64"/><rect x="374.0" y="306.7" width="1.3" height="2.2" opacity="0.46"/><rect x="418.3" y="302.2" width="1.4" height="2.4" opacity="0.57"/><rect x="422.4" y="302.8" width="0.7" height="1.2" opacity="0.45"/><rect x="430.6" y="309.7" width="0.9" height="2.3" opacity="0.55"/><rect x="386.9" y="310.2" width="1.4" height="2.5" opacity="0.61"/><rect x="420.7" y="307.5" width="0.9" height="1.5" opacity="0.35"/><rect x="367.1" y="309.9" width="0.8" height="0.9" opacity="0.38"/><rect x="370.4" y="305.8" width="0.9" height="1.2" opacity="0.44"/><rect x="392.9" y="305.0" width="1.3" height="1.5" opacity="0.47"/><rect x="426.2" y="310.2" width="0.9" height="0.9" opacity="0.63"/><rect x="400.0" y="303.8" width="0.7" height="1.4" opacity="0.37"/><rect x="373.0" y="302.4" width="1.4" height="2.8" opacity="0.3"/><rect x="397.6" y="308.8" width="1.0" height="1.0" opacity="0.39"/><rect x="390.4" y="309.8" width="1.1" height="1.9" opacity="0.5"/><rect x="366.5" y="307.8" width="1.2" height="2.4" opacity="0.39"/><rect x="383.6" y="302.1" width="0.7" height="1.2" opacity="0.43"/><rect x="419.0" y="303.8" width="1.0" height="2.3" opacity="0.5"/><rect x="364.5" y="309.8" width="1.1" height="1.5" opacity="0.35"/><rect x="412.6" y="309.9" width="0.9" height="1.8" opacity="0.47"/><rect x="375.6" y="305.4" width="1.3" height="2.1" opacity="0.58"/><rect x="381.9" y="309.4" width="1.2" height="1.3" opacity="0.46"/><rect x="412.1" y="306.9" width="1.1" height="1.4" opacity="0.47"/><rect x="388.5" y="308.8" width="0.9" height="3.2" opacity="0.48"/><rect x="379.4" y="305.5" width="0.7" height="2.6" opacity="0.27"/><rect x="406.6" y="304.6" width="1.2" height="1.1" opacity="0.52"/><rect x="414.4" y="304.0" width="0.7" height="1.7" opacity="0.51"/><rect x="381.8" y="302.1" width="1.0" height="2.7" opacity="0.31"/><rect x="430.7" y="306.3" width="0.7" height="1.0" opacity="0.4"/><rect x="397.3" y="303.5" width="0.7" height="2.0" opacity="0.35"/><rect x="395.0" y="305.8" width="1.2" height="2.2" opacity="0.34"/><rect x="375.9" y="309.3" width="0.6" height="1.1" opacity="0.28"/><rect x="422.5" y="306.6" width="1.3" height="2.3" opacity="0.38"/><rect x="394.0" y="308.2" width="0.8" height="2.7" opacity="0.41"/><rect x="366.0" y="304.9" width="1.0" height="1.2" opacity="0.61"/><rect x="429.7" y="306.3" width="1.3" height="2.5" opacity="0.47"/><rect x="374.4" y="310.1" width="1.3" height="1.9" opacity="0.4"/><rect x="368.3" y="307.3" width="1.3" height="1.7" opacity="0.37"/><rect x="407.1" y="308.7" width="0.7" height="1.5" opacity="0.51"/><rect x="366.0" y="308.9" width="0.9" height="2.8" opacity="0.43"/><rect x="374.9" y="302.2" width="0.7" height="1.4" opacity="0.55"/><rect x="420.2" y="307.4" width="0.8" height="2.4" opacity="0.54"/><rect x="389.5" y="302.7" width="1.0" height="1.3" opacity="0.33"/><rect x="391.1" y="302.6" width="1.3" height="1.5" opacity="0.61"/><rect x="416.1" y="302.1" width="1.3" height="2.7" opacity="0.46"/><rect x="426.7" y="306.1" width="0.6" height="1.2" opacity="0.37"/><rect x="424.8" y="309.1" width="0.7" height="1.6" opacity="0.29"/><rect x="379.4" y="305.0" width="0.9" height="1.2" opacity="0.51"/><rect x="380.4" y="309.6" width="1.0" height="1.8" opacity="0.56"/><rect x="387.8" y="304.2" width="0.7" height="1.5" opacity="0.34"/><rect x="415.9" y="305.0" width="1.2" height="1.5" opacity="0.28"/><rect x="385.0" y="305.3" width="1.3" height="1.3" opacity="0.33"/><rect x="374.2" y="304.2" width="1.4" height="3.0" opacity="0.34"/><rect x="366.6" y="306.1" width="1.1" height="1.1" opacity="0.42"/><rect x="418.3" y="302.0" width="1.2" height="2.4" opacity="0.56"/><rect x="398.1" y="305.9" width="1.0" height="1.1" opacity="0.46"/><rect x="380.2" y="304.7" width="0.6" height="1.2" opacity="0.27"/><rect x="402.0" y="304.0" width="1.0" height="2.0" opacity="0.34"/><rect x="372.2" y="307.1" width="1.1" height="2.5" opacity="0.45"/><rect x="404.8" y="302.2" width="0.8" height="2.7" opacity="0.4"/><rect x="370.5" y="305.6" width="1.3" height="1.0" opacity="0.29"/><rect x="398.9" y="309.4" width="0.9" height="1.4" opacity="0.56"/><rect x="369.8" y="304.5" width="1.1" height="2.8" opacity="0.59"/><rect x="386.5" y="304.3" width="0.9" height="1.1" opacity="0.36"/><rect x="418.2" y="310.3" width="0.8" height="1.0" opacity="0.55"/><rect x="432.6" y="308.8" width="0.9" height="2.6" opacity="0.55"/><rect x="416.6" y="306.2" width="1.4" height="2.7" opacity="0.34"/><rect x="394.0" y="302.8" width="0.9" height="2.8" opacity="0.44"/><rect x="400.7" y="308.6" width="0.7" height="1.6" opacity="0.44"/><rect x="398.6" y="307.8" width="1.3" height="2.7" opacity="0.47"/><rect x="412.2" y="306.6" width="1.4" height="2.2" opacity="0.49"/><rect x="391.5" y="305.6" width="1.2" height="1.7" opacity="0.61"/><rect x="415.4" y="310.1" width="1.2" height="2.2" opacity="0.4"/><rect x="364.3" y="307.6" width="1.2" height="2.5" opacity="0.55"/><rect x="365.6" y="307.8" width="0.8" height="1.7" opacity="0.6"/><rect x="392.2" y="306.0" width="0.6" height="1.2" opacity="0.33"/><rect x="378.5" y="306.4" width="0.6" height="1.0" opacity="0.28"/><rect x="415.8" y="310.2" width="1.2" height="2.0" opacity="0.3"/><rect x="419.4" y="303.1" width="0.7" height="2.0" opacity="0.59"/><rect x="385.4" y="309.3" width="0.9" height="3.1" opacity="0.55"/><rect x="425.3" y="310.4" width="1.3" height="1.3" opacity="0.46"/><rect x="402.2" y="308.1" width="0.8" height="2.2" opacity="0.36"/><rect x="376.3" y="305.8" width="1.2" height="2.1" opacity="0.39"/></g>
<path d="M213.52 332.3H347.2M361.0 332.3H435.2" stroke="#2b2b2b" stroke-width="0.9" fill="none"/>
<path d="M346.7 332.3H361.5" stroke="#444" stroke-width="0.75" fill="none"/>
<path d="M214.12 332.7v-2.7M217.70 332.7v-2.7M221.28 332.7v-2.7M224.87 332.7v-2.7M228.45 332.7v-2.7M232.03 332.7v-2.7M235.62 332.7v-2.7M239.20 332.7v-3.6M242.78 332.7v-2.7M246.37 332.7v-2.7M249.95 332.7v-2.7M253.53 332.7v-2.7M257.12 332.7v-2.7M260.70 332.7v-2.7M264.28 332.7v-2.7M267.87 332.7v-2.7M271.45 332.7v-2.7M275.03 332.7v-6.3M278.62 332.7v-2.7M282.20 332.7v-2.7M285.78 332.7v-2.7M289.37 332.7v-2.7M292.95 332.7v-2.7M296.53 332.7v-2.7M300.12 332.7v-2.7M303.70 332.7v-2.7M307.28 332.7v-2.7M310.87 332.7v-6.3M314.45 332.7v-2.7M318.03 332.7v-2.7M321.62 332.7v-2.7M325.20 332.7v-2.7M328.78 332.7v-2.7M332.37 332.7v-2.7M335.95 332.7v-2.7M339.53 332.7v-2.7M343.12 332.7v-2.7M346.70 332.7v-6.3M361.50 332.7v-6.3M365.07 332.7v-2.7M368.64 332.7v-2.7M372.21 332.7v-2.7M375.78 332.7v-2.7M379.35 332.7v-2.7M382.92 332.7v-2.7M386.49 332.7v-2.7M390.06 332.7v-2.7M393.63 332.7v-2.7M397.20 332.7v-6.3M400.77 332.7v-2.7M404.34 332.7v-2.7M407.91 332.7v-2.7M411.48 332.7v-2.7M415.05 332.7v-2.7M418.62 332.7v-2.7M422.19 332.7v-2.7M425.76 332.7v-2.7M429.33 332.7v-2.7M432.90 332.7v-6.3" stroke="#2b2b2b" stroke-width="1.05" fill="none"/>
<text x="275.2" y="342.5" font-family="Liberation Serif, serif" font-weight="bold" font-size="8.8" text-anchor="middle" >10</text>
<text x="311.2" y="342.5" font-family="Liberation Serif, serif" font-weight="bold" font-size="8.8" text-anchor="middle" >20</text>
<text x="346.7" y="342.5" font-family="Liberation Serif, serif" font-weight="bold" font-size="8.8" text-anchor="middle" >30</text>
<text x="362.5" y="342.5" font-family="Liberation Serif, serif" font-weight="bold" font-size="8.8" text-anchor="middle" >35</text>
<text x="397.1" y="342.5" font-family="Liberation Serif, serif" font-weight="bold" font-size="8.8" text-anchor="middle" >45</text>
<text x="432.1" y="342.5" font-family="Liberation Serif, serif" font-weight="bold" font-size="8.8" text-anchor="middle" >55</text>
<text x="239.2" y="342.5" font-family="Liberation Serif, serif" font-weight="bold" font-size="8.6" text-anchor="middle" >G</text>
<path d="M239.2 329.3V325.1" stroke="#1c1c1c" stroke-width="1.1"/><path d="M237.29999999999998 326.1L239.2 323.0L241.1 326.1Z" fill="#1c1c1c"/>
<text x="354.6" y="325.8" font-family="Liberation Serif, serif" font-weight="bold" font-size="9" text-anchor="middle" >W</text>
<text x="445.6" y="310.6" font-family="Liberation Serif, serif" font-weight="bold" font-size="9" text-anchor="middle" >0.5g</text>
<path d="M454.6 302.8V315.2" stroke="#777" stroke-width="1.4"/>
</g>
<g>
<text x="227.4" y="381.3" font-family="Liberation Serif, serif" font-weight="bold" font-size="13" text-anchor="middle" >(F)</text>
<path d="M217 483.8 L349 484.2 L349 499.6 L217 500.4 Z" fill="#060606"/>
<path d="M349 498.9 L363 498.5" stroke="#111" stroke-width="1.3" fill="none"/>
<path d="M363 479.3 L380 479 L392 477.2 L412 477 L420 477.5 L434.8 477.5 L434.8 500.3 L363 500.3 Z" fill="#060606"/>
<g fill="#9a9a9a"><rect x="220.6" y="488.0" width="0.9" height="2.4" opacity="0.12"/><rect x="233.4" y="489.1" width="1.2" height="1.2" opacity="0.22"/><rect x="303.8" y="488.2" width="1.0" height="1.9" opacity="0.17"/><rect x="346.5" y="487.8" width="0.6" height="3.1" opacity="0.16"/><rect x="244.4" y="490.0" width="0.9" height="3.1" opacity="0.13"/><rect x="246.8" y="492.3" width="1.0" height="3.1" opacity="0.23"/><rect x="264.5" y="488.8" width="1.3" height="3.2" opacity="0.1"/><rect x="313.1" y="494.8" width="1.1" height="1.3" opacity="0.23"/><rect x="312.4" y="488.7" width="1.1" height="1.3" opacity="0.11"/><rect x="262.0" y="490.0" width="0.9" height="2.4" opacity="0.23"/><rect x="342.0" y="495.8" width="1.4" height="2.7" opacity="0.15"/><rect x="241.6" y="492.6" width="1.0" height="2.4" opacity="0.11"/><rect x="243.7" y="495.3" width="1.1" height="2.5" opacity="0.12"/><rect x="270.1" y="495.2" width="1.1" height="3.2" opacity="0.13"/><rect x="277.2" y="494.2" width="1.0" height="2.7" opacity="0.19"/><rect x="234.1" y="487.9" width="1.4" height="1.1" opacity="0.13"/><rect x="261.9" y="493.4" width="1.3" height="1.9" opacity="0.18"/><rect x="319.9" y="489.5" width="0.9" height="2.3" opacity="0.2"/><rect x="223.9" y="488.0" width="0.7" height="2.5" opacity="0.21"/><rect x="343.6" y="493.9" width="0.8" height="2.6" opacity="0.26"/><rect x="263.6" y="487.1" width="0.9" height="1.5" opacity="0.13"/><rect x="224.8" y="488.1" width="1.3" height="0.9" opacity="0.2"/><rect x="245.4" y="488.7" width="1.3" height="1.5" opacity="0.13"/><rect x="277.2" y="493.3" width="1.0" height="2.9" opacity="0.16"/><rect x="286.1" y="493.5" width="1.0" height="2.5" opacity="0.17"/><rect x="236.1" y="488.1" width="1.2" height="2.6" opacity="0.25"/><rect x="307.3" y="492.2" width="0.7" height="2.8" opacity="0.12"/><rect x="273.4" y="488.3" width="0.9" height="1.5" opacity="0.17"/><rect x="310.0" y="491.9" width="0.8" height="2.7" opacity="0.22"/><rect x="324.9" y="487.3" width="1.1" height="2.9" opacity="0.14"/><rect x="244.9" y="494.3" width="0.9" height="1.8" opacity="0.23"/><rect x="268.2" y="488.8" width="0.8" height="1.6" opacity="0.21"/><rect x="266.1" y="493.9" width="0.7" height="1.4" opacity="0.2"/><rect x="280.4" y="491.5" width="1.3" height="1.5" opacity="0.13"/><rect x="223.3" y="491.3" width="0.8" height="1.9" opacity="0.1"/><rect x="219.0" y="490.4" width="1.2" height="1.5" opacity="0.25"/><rect x="293.2" y="490.6" width="1.2" height="1.4" opacity="0.2"/><rect x="327.4" y="491.9" width="0.9" height="1.0" opacity="0.19"/><rect x="243.0" y="490.4" width="1.0" height="3.1" opacity="0.21"/><rect x="285.5" y="494.7" width="0.8" height="1.7" opacity="0.21"/><rect x="289.9" y="489.0" width="0.9" height="2.8" opacity="0.14"/><rect x="309.3" y="487.4" width="1.4" height="2.4" opacity="0.15"/><rect x="344.9" y="494.2" width="0.6" height="1.4" opacity="0.18"/><rect x="346.8" y="488.3" width="0.6" height="1.6" opacity="0.11"/><rect x="271.3" y="491.8" width="1.0" height="1.1" opacity="0.1"/><rect x="321.8" y="491.0" width="1.0" height="1.9" opacity="0.21"/><rect x="334.3" y="494.4" width="1.2" height="1.6" opacity="0.13"/><rect x="230.5" y="494.7" width="0.6" height="2.2" opacity="0.25"/><rect x="260.2" y="490.5" width="0.9" height="3.1" opacity="0.21"/><rect x="326.4" y="487.3" width="1.2" height="1.9" opacity="0.16"/><rect x="323.5" y="493.6" width="1.3" height="2.6" opacity="0.25"/><rect x="273.8" y="492.0" width="1.2" height="1.9" opacity="0.12"/><rect x="293.9" y="494.8" width="1.3" height="1.1" opacity="0.16"/><rect x="248.3" y="490.1" width="1.4" height="1.8" opacity="0.15"/><rect x="253.9" y="491.0" width="1.1" height="1.6" opacity="0.13"/><rect x="247.9" y="489.3" width="1.3" height="1.2" opacity="0.22"/><rect x="232.8" y="494.1" width="0.8" height="2.7" opacity="0.17"/><rect x="229.0" y="487.9" width="1.2" height="2.1" opacity="0.18"/><rect x="264.1" y="493.2" width="1.0" height="0.9" opacity="0.2"/><rect x="259.1" y="494.6" width="1.0" height="2.7" opacity="0.12"/><rect x="309.5" y="492.5" width="1.3" height="2.9" opacity="0.19"/><rect x="294.8" y="493.9" width="0.8" height="2.1" opacity="0.23"/><rect x="295.1" y="491.9" width="1.3" height="3.1" opacity="0.14"/><rect x="228.6" y="492.5" width="0.7" height="3.1" opacity="0.18"/><rect x="287.4" y="494.4" width="1.3" height="1.1" opacity="0.17"/><rect x="242.1" y="491.1" width="0.7" height="2.9" opacity="0.16"/><rect x="268.8" y="495.1" width="1.3" height="1.6" opacity="0.18"/><rect x="303.9" y="488.7" width="0.7" height="2.9" opacity="0.13"/><rect x="309.6" y="493.6" width="1.1" height="1.6" opacity="0.24"/><rect x="319.7" y="487.6" width="1.3" height="2.3" opacity="0.15"/><rect x="240.6" y="487.9" width="1.2" height="2.8" opacity="0.16"/><rect x="242.0" y="487.7" width="0.9" height="1.5" opacity="0.11"/><rect x="257.1" y="494.4" width="0.7" height="1.8" opacity="0.18"/><rect x="239.7" y="487.3" width="0.7" height="1.1" opacity="0.26"/><rect x="329.3" y="493.3" width="1.3" height="1.6" opacity="0.14"/><rect x="330.3" y="492.5" width="1.3" height="1.7" opacity="0.17"/><rect x="310.9" y="494.9" width="0.7" height="1.4" opacity="0.1"/><rect x="290.6" y="495.3" width="1.1" height="1.2" opacity="0.21"/><rect x="302.2" y="487.9" width="1.3" height="2.4" opacity="0.18"/><rect x="263.0" y="488.4" width="1.0" height="1.7" opacity="0.14"/><rect x="301.7" y="493.0" width="1.4" height="3.1" opacity="0.17"/><rect x="310.7" y="490.4" width="0.9" height="2.2" opacity="0.26"/><rect x="224.4" y="491.2" width="0.9" height="2.7" opacity="0.25"/><rect x="279.4" y="487.7" width="1.1" height="2.2" opacity="0.21"/><rect x="318.4" y="491.2" width="1.0" height="2.6" opacity="0.1"/><rect x="249.7" y="493.2" width="1.4" height="3.1" opacity="0.15"/><rect x="343.4" y="489.5" width="1.0" height="1.2" opacity="0.2"/><rect x="269.1" y="493.2" width="1.4" height="1.1" opacity="0.21"/><rect x="296.0" y="489.5" width="0.6" height="3.1" opacity="0.21"/><rect x="299.0" y="487.9" width="1.3" height="1.8" opacity="0.17"/><rect x="290.2" y="491.0" width="1.4" height="1.9" opacity="0.21"/><rect x="317.9" y="495.4" width="0.7" height="1.6" opacity="0.25"/><rect x="296.6" y="490.4" width="1.3" height="1.1" opacity="0.14"/><rect x="227.9" y="493.0" width="1.0" height="1.5" opacity="0.17"/><rect x="251.4" y="493.4" width="1.2" height="1.7" opacity="0.24"/><rect x="224.7" y="492.1" width="0.7" height="1.1" opacity="0.19"/><rect x="230.1" y="487.7" width="0.7" height="1.7" opacity="0.23"/><rect x="256.0" y="488.1" width="1.2" height="2.8" opacity="0.26"/><rect x="225.3" y="488.5" width="0.9" height="3.2" opacity="0.19"/><rect x="332.1" y="489.0" width="1.0" height="2.4" opacity="0.14"/><rect x="285.9" y="494.4" width="1.3" height="2.5" opacity="0.23"/><rect x="346.5" y="492.4" width="0.8" height="1.3" opacity="0.11"/><rect x="336.6" y="492.1" width="1.1" height="2.9" opacity="0.21"/><rect x="269.2" y="492.3" width="0.7" height="1.4" opacity="0.15"/><rect x="320.7" y="493.0" width="1.1" height="1.7" opacity="0.16"/><rect x="268.2" y="487.5" width="0.9" height="3.0" opacity="0.23"/><rect x="250.9" y="491.5" width="1.2" height="1.3" opacity="0.16"/><rect x="294.1" y="488.7" width="1.3" height="0.8" opacity="0.24"/><rect x="304.7" y="490.6" width="0.8" height="2.9" opacity="0.21"/><rect x="245.9" y="489.9" width="0.7" height="2.3" opacity="0.17"/><rect x="259.7" y="493.3" width="0.8" height="1.1" opacity="0.23"/><rect x="332.5" y="494.3" width="1.0" height="2.5" opacity="0.24"/><rect x="224.0" y="489.7" width="0.9" height="2.6" opacity="0.15"/><rect x="316.8" y="489.3" width="1.4" height="1.8" opacity="0.19"/><rect x="299.4" y="494.4" width="1.1" height="1.3" opacity="0.17"/><rect x="291.0" y="487.7" width="1.3" height="1.5" opacity="0.25"/><rect x="266.6" y="495.6" width="1.2" height="1.7" opacity="0.21"/><rect x="219.0" y="487.8" width="1.1" height="1.5" opacity="0.17"/><rect x="309.3" y="491.3" width="1.1" height="2.6" opacity="0.23"/><rect x="232.5" y="494.5" width="1.2" height="1.3" opacity="0.11"/><rect x="243.7" y="487.8" width="1.1" height="3.2" opacity="0.18"/><rect x="254.3" y="488.5" width="1.4" height="2.1" opacity="0.14"/><rect x="335.6" y="490.8" width="1.4" height="2.0" opacity="0.14"/><rect x="242.9" y="487.1" width="1.3" height="1.6" opacity="0.22"/><rect x="326.7" y="490.6" width="1.0" height="2.5" opacity="0.2"/><rect x="265.5" y="488.8" width="0.8" height="0.9" opacity="0.2"/><rect x="301.0" y="494.0" width="1.0" height="2.6" opacity="0.19"/><rect x="328.1" y="492.0" width="1.1" height="2.2" opacity="0.13"/><rect x="228.9" y="494.4" width="1.2" height="2.0" opacity="0.25"/><rect x="242.3" y="493.6" width="1.0" height="1.1" opacity="0.12"/><rect x="222.3" y="488.7" width="1.2" height="1.9" opacity="0.11"/><rect x="282.2" y="495.8" width="1.2" height="1.5" opacity="0.18"/><rect x="266.0" y="489.1" width="1.1" height="0.9" opacity="0.18"/><rect x="337.7" y="493.8" width="1.1" height="2.8" opacity="0.25"/><rect x="253.6" y="495.5" width="1.3" height="2.0" opacity="0.12"/><rect x="287.2" y="491.5" width="1.4" height="1.4" opacity="0.21"/><rect x="316.2" y="492.4" width="0.8" height="3.0" opacity="0.14"/><rect x="328.8" y="495.0" width="1.0" height="0.9" opacity="0.14"/><rect x="227.5" y="488.7" width="0.9" height="2.2" opacity="0.23"/><rect x="225.1" y="493.7" width="0.7" height="2.5" opacity="0.1"/><rect x="264.6" y="495.3" width="1.3" height="0.9" opacity="0.16"/><rect x="336.0" y="488.6" width="1.0" height="1.4" opacity="0.15"/><rect x="281.7" y="488.2" width="0.7" height="3.1" opacity="0.22"/><rect x="295.5" y="488.2" width="0.7" height="2.3" opacity="0.2"/><rect x="220.3" y="495.7" width="0.9" height="1.4" opacity="0.2"/><rect x="336.0" y="490.1" width="1.0" height="0.9" opacity="0.17"/><rect x="333.9" y="495.5" width="0.9" height="2.9" opacity="0.26"/><rect x="257.8" y="494.7" width="0.8" height="3.1" opacity="0.24"/><rect x="343.3" y="490.7" width="1.1" height="2.5" opacity="0.19"/><rect x="225.6" y="493.0" width="1.2" height="2.3" opacity="0.24"/></g>
<g fill="#9a9a9a"><rect x="370.3" y="484.0" width="0.8" height="3.0" opacity="0.12"/><rect x="414.0" y="482.4" width="1.0" height="2.8" opacity="0.12"/><rect x="429.2" y="493.3" width="0.9" height="0.8" opacity="0.14"/><rect x="373.6" y="481.1" width="1.2" height="2.8" opacity="0.15"/><rect x="429.8" y="483.8" width="0.7" height="1.1" opacity="0.17"/><rect x="372.6" y="483.2" width="0.6" height="0.9" opacity="0.07"/><rect x="389.0" y="483.3" width="0.8" height="3.0" opacity="0.08"/><rect x="420.4" y="491.3" width="1.1" height="2.2" opacity="0.15"/><rect x="404.9" y="484.2" width="0.9" height="1.4" opacity="0.11"/><rect x="432.1" y="487.0" width="0.7" height="1.9" opacity="0.15"/><rect x="395.3" y="490.8" width="0.7" height="0.9" opacity="0.13"/><rect x="368.3" y="485.2" width="0.9" height="1.3" opacity="0.07"/><rect x="365.5" y="494.3" width="1.2" height="3.1" opacity="0.12"/><rect x="429.9" y="493.1" width="1.1" height="2.1" opacity="0.12"/><rect x="380.3" y="486.3" width="1.2" height="1.3" opacity="0.15"/><rect x="399.7" y="489.5" width="1.3" height="2.4" opacity="0.08"/><rect x="381.8" y="481.0" width="0.6" height="3.1" opacity="0.13"/><rect x="430.9" y="491.9" width="0.9" height="3.1" opacity="0.16"/><rect x="396.0" y="482.2" width="0.9" height="1.2" opacity="0.1"/><rect x="370.6" y="491.0" width="1.4" height="1.3" opacity="0.15"/><rect x="404.7" y="487.8" width="1.3" height="1.7" opacity="0.15"/><rect x="367.4" y="494.5" width="0.7" height="0.8" opacity="0.16"/><rect x="414.1" y="490.4" width="1.2" height="1.7" opacity="0.08"/><rect x="386.6" y="494.4" width="1.4" height="1.4" opacity="0.11"/><rect x="395.6" y="493.7" width="0.6" height="2.8" opacity="0.09"/><rect x="402.3" y="482.8" width="0.7" height="2.9" opacity="0.12"/><rect x="431.1" y="493.1" width="1.2" height="1.0" opacity="0.13"/><rect x="432.5" y="488.0" width="0.7" height="1.2" opacity="0.17"/><rect x="431.4" y="484.5" width="0.9" height="2.5" opacity="0.12"/><rect x="377.6" y="494.8" width="1.1" height="1.7" opacity="0.07"/><rect x="399.7" y="491.5" width="0.7" height="1.0" opacity="0.14"/><rect x="427.6" y="486.3" width="1.0" height="2.3" opacity="0.12"/><rect x="373.7" y="484.8" width="0.8" height="1.3" opacity="0.07"/><rect x="391.6" y="484.1" width="1.3" height="1.6" opacity="0.17"/><rect x="420.2" y="484.8" width="0.7" height="2.2" opacity="0.11"/><rect x="401.4" y="482.7" width="1.0" height="2.6" opacity="0.11"/><rect x="382.4" y="493.9" width="0.8" height="3.2" opacity="0.14"/><rect x="365.2" y="487.3" width="0.7" height="2.7" opacity="0.11"/><rect x="370.8" y="494.3" width="1.2" height="2.3" opacity="0.12"/><rect x="370.1" y="494.8" width="0.8" height="2.1" opacity="0.12"/><rect x="397.1" y="481.3" width="1.3" height="2.0" opacity="0.11"/><rect x="423.5" y="493.0" width="1.2" height="3.0" opacity="0.1"/><rect x="372.1" y="485.9" width="1.1" height="2.7" opacity="0.14"/><rect x="407.8" y="489.4" width="1.1" height="2.2" opacity="0.07"/><rect x="402.2" y="484.9" width="0.7" height="2.3" opacity="0.15"/><rect x="384.2" y="490.4" width="1.1" height="2.4" opacity="0.16"/><rect x="412.3" y="482.1" width="1.1" height="1.6" opacity="0.11"/><rect x="410.9" y="483.4" width="1.1" height="3.1" opacity="0.07"/><rect x="422.9" y="490.9" width="0.9" height="2.6" opacity="0.07"/><rect x="375.9" y="495.0" width="1.1" height="1.2" opacity="0.08"/></g>
<path d="M218.76 516.4H350.1M363.9 516.4H437.3" stroke="#2b2b2b" stroke-width="0.9" fill="none"/>
<path d="M349.6 516.4H364.4" stroke="#444" stroke-width="0.75" fill="none"/>
<path d="M219.36 516.8v-2.7M222.88 516.8v-2.7M226.40 516.8v-2.7M229.92 516.8v-2.7M233.44 516.8v-2.7M236.96 516.8v-2.7M240.48 516.8v-2.7M244.00 516.8v-3.6M247.52 516.8v-2.7M251.04 516.8v-2.7M254.56 516.8v-2.7M258.08 516.8v-2.7M261.60 516.8v-2.7M265.12 516.8v-2.7M268.64 516.8v-2.7M272.16 516.8v-2.7M275.68 516.8v-2.7M279.20 516.8v-6.3M282.72 516.8v-2.7M286.24 516.8v-2.7M289.76 516.8v-2.7M293.28 516.8v-2.7M296.80 516.8v-2.7M300.32 516.8v-2.7M303.84 516.8v-2.7M307.36 516.8v-2.7M310.88 516.8v-2.7M314.40 516.8v-6.3M317.92 516.8v-2.7M321.44 516.8v-2.7M324.96 516.8v-2.7M328.48 516.8v-2.7M332.00 516.8v-2.7M335.52 516.8v-2.7M339.04 516.8v-2.7M342.56 516.8v-2.7M346.08 516.8v-2.7M349.60 516.8v-6.3M364.40 516.8v-6.3M367.93 516.8v-2.7M371.46 516.8v-2.7M374.99 516.8v-2.7M378.52 516.8v-2.7M382.05 516.8v-2.7M385.58 516.8v-2.7M389.11 516.8v-2.7M392.64 516.8v-2.7M396.17 516.8v-2.7M399.70 516.8v-6.3M403.23 516.8v-2.7M406.76 516.8v-2.7M410.29 516.8v-2.7M413.82 516.8v-2.7M417.35 516.8v-2.7M420.88 516.8v-2.7M424.41 516.8v-2.7M427.94 516.8v-2.7M431.47 516.8v-2.7M435.00 516.8v-6.3" stroke="#2b2b2b" stroke-width="1.05" fill="none"/>
<text x="279.5" y="526.8" font-family="Liberation Serif, serif" font-weight="bold" font-size="8.8" text-anchor="middle" >10</text>
<text x="314.5" y="526.8" font-family="Liberation Serif, serif" font-weight="bold" font-size="8.8" text-anchor="middle" >20</text>
<text x="349.6" y="526.8" font-family="Liberation Serif, serif" font-weight="bold" font-size="8.8" text-anchor="middle" >30</text>
<text x="365.4" y="526.8" font-family="Liberation Serif, serif" font-weight="bold" font-size="8.8" text-anchor="middle" >35</text>
<text x="400" y="526.8" font-family="Liberation Serif, serif" font-weight="bold" font-size="8.8" text-anchor="middle" >45</text>
<text x="434.3" y="526.8" font-family="Liberation Serif, serif" font-weight="bold" font-size="8.8" text-anchor="middle" >55</text>
<text x="244" y="526.8" font-family="Liberation Serif, serif" font-weight="bold" font-size="8.6" text-anchor="middle" >G</text>
<path d="M244 513.4V509.2" stroke="#1c1c1c" stroke-width="1.1"/><path d="M242.1 510.2L244 507.09999999999997L245.9 510.2Z" fill="#1c1c1c"/>
<text x="357.3" y="510.6" font-family="Liberation Serif, serif" font-weight="bold" font-size="9" text-anchor="middle" >W</text>
<text x="442.9" y="496" font-family="Liberation Serif, serif" font-weight="bold" font-size="9" text-anchor="middle" >0.5g</text>
<path d="M451.4 488.2V500" stroke="#444" stroke-width="1.0"/>
</g>
</g>
</svg></body></html>
